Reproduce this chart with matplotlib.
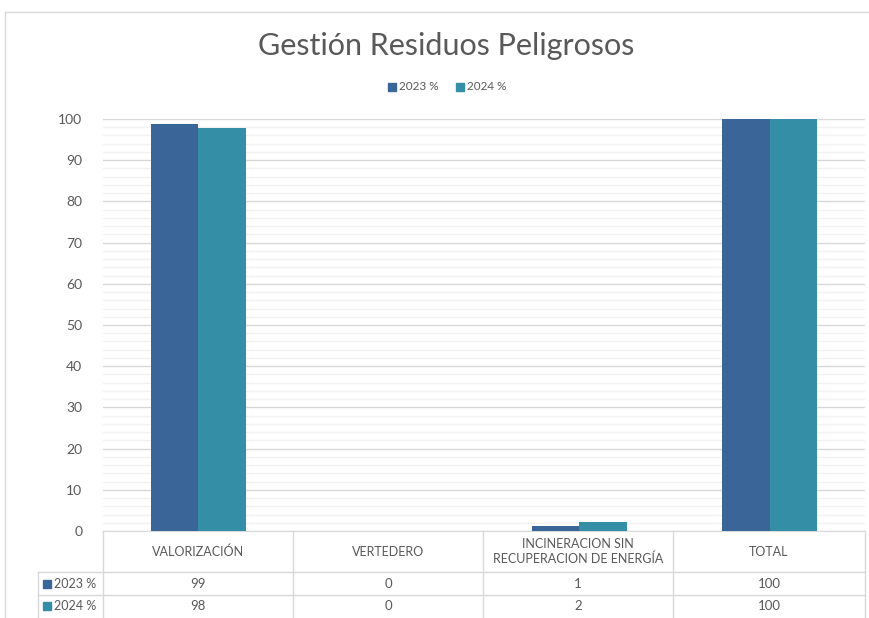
import matplotlib.pyplot as plt
from matplotlib.patches import Rectangle
from matplotlib.lines import Line2D
from matplotlib.ticker import MultipleLocator

categorias = ['VALORIZACIÓN', 'VERTEDERO', 'INCINERACION SIN\nRECUPERACION DE ENERGÍA', 'TOTAL']
series = ['2023 %', '2024 %']
valores_2023 = [98.8, 0, 1.2, 100]
valores_2024 = [97.7, 0, 2.3, 100]
tabla_2023 = ['99', '0', '1', '100']
tabla_2024 = ['98', '0', '2', '100']
colores = ['#3A6598', '#348EA6']

W, H = 869, 618
gris = '#595959'
linea = '#D9D9D9'

plt.rcParams['font.family'] = ['Lato', 'DejaVu Sans']

fig = plt.figure(figsize=(W / 100, H / 100), dpi=100)

def fx(x):
    return x / W

def fy(y):
    return 1 - y / H

# borde del grafico
fig.add_artist(Line2D([fx(5), fx(869)], [fy(12), fy(12)], color=linea, lw=1))
fig.add_artist(Line2D([fx(5), fx(5)], [fy(12), fy(618)], color=linea, lw=1))

ax = fig.add_axes([fx(103), fy(531), fx(865) - fx(103), fy(119) - fy(531)])
x = range(len(categorias))
ancho = 0.25
ax.bar([i - ancho / 2 for i in x], valores_2023, ancho, color=colores[0], zorder=3)
ax.bar([i + ancho / 2 for i in x], valores_2024, ancho, color=colores[1], zorder=3)
ax.set_xlim(-0.5, len(categorias) - 0.5)
ax.set_ylim(0, 100)
ax.yaxis.set_major_locator(MultipleLocator(10))
ax.yaxis.set_minor_locator(MultipleLocator(2))
ax.grid(which='major', axis='y', color=linea, lw=1, zorder=0)
ax.grid(which='minor', axis='y', color='#F2F2F2', lw=1, zorder=0)
ax.set_xticks([])
for s in ['top', 'right', 'left']:
    ax.spines[s].set_visible(False)
ax.spines['bottom'].set_color(linea)
ax.tick_params(axis='y', which='both', length=0, labelsize=10, labelcolor=gris, pad=15)

fig.text(fx(446), fy(46), 'Gestión Residuos Peligrosos', ha='center', va='center',
         fontsize=22, color=gris)

# leyenda
lx = [388, 456]
for i, s in enumerate(series):
    fig.add_artist(Rectangle((fx(lx[i]), fy(91)), fx(8), 8 / H, color=colores[i]))
    fig.text(fx(lx[i] + 11), fy(87), s, ha='left', va='center', fontsize=8.5, color=gris)

# tabla de datos
cols = [103, 293, 483, 673, 865]
filas = [572, 595]
for c in cols:
    fig.add_artist(Line2D([fx(c), fx(c)], [fy(531), fy(618)], color=linea, lw=1))
for f in filas:
    fig.add_artist(Line2D([fx(38), fx(865)], [fy(f), fy(f)], color=linea, lw=1))
fig.add_artist(Line2D([fx(38), fx(38)], [fy(572), fy(618)], color=linea, lw=1))

for j, cat in enumerate(categorias):
    cx = (cols[j] + cols[j + 1]) / 2
    fig.text(fx(cx), fy(551.5), cat, ha='center', va='center', fontsize=9,
             color=gris, linespacing=1.3)
    fig.text(fx(cx), fy(583.5), tabla_2023[j], ha='center', va='center', fontsize=9.5, color=gris)
    fig.text(fx(cx), fy(606), tabla_2024[j], ha='center', va='center', fontsize=9.5, color=gris)

for i, (s, yc) in enumerate(zip(series, [583.5, 606])):
    fig.add_artist(Rectangle((fx(43), fy(yc + 4)), fx(8), 8 / H, color=colores[i]))
    fig.text(fx(54), fy(yc), s, ha='left', va='center', fontsize=9, color=gris)

fig.savefig('out.png', dpi=100)
